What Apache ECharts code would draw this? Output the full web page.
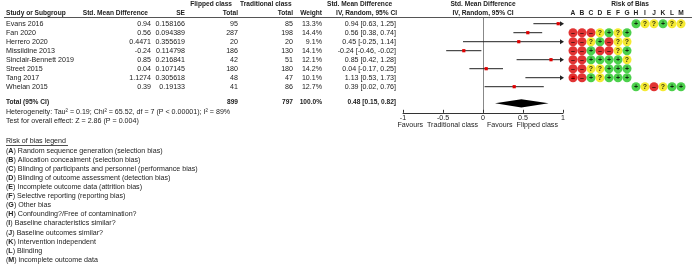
<!DOCTYPE html>
<html>
<head>
<meta charset="utf-8">
<script src="https://cdn.jsdelivr.net/npm/echarts@6/dist/echarts.min.js"></script>
<style>
  html, body { margin: 0; padding: 0; background: #fff; }
  #chart { width: 700px; height: 265px; }
</style>
</head>
<body>
<div id="chart"></div>
<script>
// study rows
var studies = ['Evans 2016', 'Fan 2020', 'Herrero 2020', 'Missildine 2013', 'Sinclair-Bennett 2019', 'Street 2015', 'Tang 2017', 'Whelan 2015'];
var smdText = ['0.94', '0.56', '0.4471', '-0.24', '0.85', '0.04', '1.1274', '0.39'];
var smd = [0.94, 0.56, 0.4471, -0.24, 0.85, 0.04, 1.1274, 0.39];
var seText = ['0.158166', '0.094389', '0.355619', '0.114798', '0.216841', '0.107145', '0.305618', '0.19133'];
var flippedTotal = [95, 287, 20, 186, 42, 180, 48, 41];
var tradTotal = [85, 198, 20, 130, 51, 180, 47, 86];
var weights = ['13.3%', '14.4%', '9.1%', '14.1%', '12.1%', '14.2%', '10.1%', '12.7%'];
var ciLow = [0.63, 0.38, -0.25, -0.46, 0.42, -0.17, 0.53, 0.02];
var ciHigh = [1.25, 0.74, 1.14, -0.02, 1.28, 0.25, 1.73, 0.76];

// pooled
var totalEst = 0.48, totalLow = 0.15, totalHigh = 0.82;
var totalFlipped = 899, totalTrad = 797, totalWeight = '100.0%';

// risk of bias, one char per column A..M ('.' = not assessed)
var biasCols = ['A', 'B', 'C', 'D', 'E', 'F', 'G', 'H', 'I', 'J', 'K', 'L', 'M'];
var biasRows = [
    '.......+??+??',
    '---?+?+......',
    '--?+-??......',
    '--+--?+......',
    '--++++?......',
    '--??+++......',
    '--+?+++......',
    '.......+?-?++'
];
var biasLegend = [
    'Random sequence generation (selection bias)',
    'Allocation concealment (selection bias)',
    'Blinding of participants and personnel (performance bias)',
    'Blinding of outcome assessment (detection bias)',
    'Incomplete outcome data (attrition bias)',
    'Selective reporting (reporting bias)',
    'Other bias',
    'Confounding?/Free of contamination?',
    'Baseline characteristics similar?',
    'Baseline outcomes similar?',
    'Intervention independent',
    'Blinding',
    'incomplete outcome data'
];

var FONT = '"Liberation Sans", Arial, sans-serif';
var FS = 7.1;     // regular text
var FSB = 6.6;    // bold headers
var TXT = '#222';
var totalRow = 8.67;

function f2(v){ return v.toFixed(2); }
function txt(x, y, s, align, bold){
    return { type: 'text', x: x, y: y, silent: true,
        style: { text: s, fill: TXT, font: bold ? ('bold ' + FSB + 'px ' + FONT) : (FS + 'px ' + FONT),
            align: align || 'left', textAlign: align || 'left', verticalAlign: 'middle', textVerticalAlign: 'middle' } };
}

var yRows = { type: 'value', inverse: true, min: -0.6, max: 9.9, show: false };
var gridTop = 18.3, gridH = 94.5;

var biasColor = { '-': '#d90000', '+': '#1fc41f', '?': '#f2e500' };
var biasData = [];
biasRows.forEach(function(row, r){
    row.split('').forEach(function(ch, c){
        if (ch !== '.') biasData.push({ value: [c, r, ch], itemStyle: { color: biasColor[ch] } });
    });
});

var graphics = [
    txt(232, 4, 'Flipped class', 'right', true),
    txt(240, 4, 'Traditional class', 'left', true),
    txt(327, 4, 'Std. Mean Difference', 'left', true),
    txt(483, 4, 'Std. Mean Difference', 'center', true),
    txt(630, 4, 'Risk of Bias', 'center', true),
    txt(6, 13, 'Study or Subgroup', 'left', true),
    txt(148, 13, 'Std. Mean Difference', 'right', true),
    txt(185, 13, 'SE', 'right', true),
    txt(238, 13, 'Total', 'right', true),
    txt(293, 13, 'Total', 'right', true),
    txt(322, 13, 'Weight', 'right', true),
    txt(397, 13, 'IV, Random, 95% CI', 'right', true),
    txt(483, 13, 'IV, Random, 95% CI', 'center', true),
    { type: 'line', silent: true, shape: { x1: 4, y1: 17.5, x2: 692, y2: 17.5 }, style: { stroke: '#555', lineWidth: 1 } },
    txt(6, 111.7, 'Heterogeneity: Tau² = 0.19; Chi² = 65.52, df = 7 (P < 0.00001); I² = 89%', 'left'),
    txt(6, 120.7, 'Test for overall effect: Z = 2.86 (P = 0.004)', 'left'),
    txt(478, 125, 'Favours  Traditional class', 'right'),
    txt(487, 125, 'Favours  Flipped class', 'left'),
    txt(6, 141.5, 'Risk of bias legend', 'left'),
    { type: 'line', silent: true, shape: { x1: 6, y1: 145.5, x2: 68, y2: 145.5 }, style: { stroke: TXT, lineWidth: 0.8 } }
];
biasLegend.forEach(function(s, k){
    graphics.push({ type: 'text', x: 6, y: 150.7 + 9.1 * k, silent: true,
        style: { text: '({b|' + biasCols[k] + '}) ' + s, fill: TXT, font: FS + 'px ' + FONT,
            rich: { b: { fontWeight: 'bold', fontSize: FS, fontFamily: FONT, fill: TXT } },
            verticalAlign: 'middle', textVerticalAlign: 'middle' } });
});

var chart = echarts.init(document.getElementById('chart'), null, { renderer: 'canvas' });
chart.setOption({
    animation: false,
    backgroundColor: '#fff',
    grid: [
        { left: 0, width: 400, top: gridTop, height: gridH },
        { left: 403, width: 160, top: gridTop, height: gridH },
        { left: 568.5, width: 117, top: gridTop, height: gridH }
    ],
    xAxis: [
        { gridIndex: 0, type: 'value', min: 0, max: 1, show: false },
        { gridIndex: 1, type: 'value', min: -1, max: 1, interval: 0.5,
            axisLine: { onZero: false, lineStyle: { color: '#333', width: 1 } },
            axisTick: { inside: true, length: 3, lineStyle: { color: '#333' } },
            axisLabel: { margin: 2, fontSize: FS, fontFamily: FONT, color: TXT },
            splitLine: { show: false } },
        { gridIndex: 2, type: 'category', data: biasCols, position: 'top',
            axisLine: { show: false }, axisTick: { show: false },
            axisLabel: { margin: 2, fontSize: FSB, fontWeight: 'bold', fontFamily: FONT, color: TXT } }
    ],
    yAxis: [
        Object.assign({ gridIndex: 0 }, yRows),
        { gridIndex: 1, type: 'value', inverse: true, min: -0.6, max: 9.9,
            axisLine: { show: true, onZero: true, lineStyle: { color: '#888', width: 1 } },
            axisTick: { show: false }, axisLabel: { show: false }, splitLine: { show: false } },
        Object.assign({ gridIndex: 2 }, yRows)
    ],
    graphic: graphics,
    series: [
        {   // table rows
            type: 'custom', xAxisIndex: 0, yAxisIndex: 0,
            data: studies.map(function(s, i){ return [0.5, i]; }),
            encode: { x: 0, y: 1 },
            renderItem: function(params, api){
                var i = api.value(1);
                var y = api.coord([0.5, i])[1];
                return { type: 'group', children: [
                    txt(6, y, studies[i], 'left'),
                    txt(151, y, smdText[i], 'right'),
                    txt(185, y, seText[i], 'right'),
                    txt(238, y, String(flippedTotal[i]), 'right'),
                    txt(293, y, String(tradTotal[i]), 'right'),
                    txt(322, y, weights[i], 'right'),
                    txt(396, y, f2(smd[i]) + ' [' + f2(ciLow[i]) + ', ' + f2(ciHigh[i]) + ']', 'right')
                ] };
            }
        },
        {   // total row
            type: 'custom', xAxisIndex: 0, yAxisIndex: 0,
            data: [[0.5, totalRow]],
            encode: { x: 0, y: 1 },
            renderItem: function(params, api){
                var y = api.coord([0.5, api.value(1)])[1];
                return { type: 'group', children: [
                    txt(6, y, 'Total (95% CI)', 'left', true),
                    txt(238, y, String(totalFlipped), 'right', true),
                    txt(293, y, String(totalTrad), 'right', true),
                    txt(322, y, totalWeight, 'right', true),
                    txt(396, y, f2(totalEst) + ' [' + f2(totalLow) + ', ' + f2(totalHigh) + ']', 'right', true)
                ] };
            }
        },
        {   // study CIs
            type: 'custom', xAxisIndex: 1, yAxisIndex: 1, clip: false,
            data: smd.map(function(v, i){ return [i, v, ciLow[i], ciHigh[i]]; }),
            encode: { y: 0, x: [1, 2, 3] },
            renderItem: function(params, api){
                var i = api.value(0), est = api.value(1), lo = api.value(2), hi = api.value(3);
                var a = api.coord([Math.max(lo, -1), i]);
                var b = api.coord([Math.min(hi, 1), i]);
                var p = api.coord([est, i]);
                var kids = [];
                var x2 = hi > 1 ? b[0] - 2 : b[0];
                var x1 = lo < -1 ? a[0] + 2 : a[0];
                kids.push({ type: 'line', shape: { x1: x1, y1: a[1], x2: x2, y2: b[1] }, style: { stroke: '#222', lineWidth: 1 } });
                if (hi > 1) kids.push({ type: 'polygon', shape: { points: [[b[0] + 1, b[1]], [b[0] - 3, b[1] - 2.5], [b[0] - 3, b[1] + 2.5]] }, style: { fill: '#222' } });
                if (lo < -1) kids.push({ type: 'polygon', shape: { points: [[a[0] - 1, a[1]], [a[0] + 3, a[1] - 2.5], [a[0] + 3, a[1] + 2.5]] }, style: { fill: '#222' } });
                kids.push({ type: 'rect', shape: { x: p[0] - 1.6, y: p[1] - 1.6, width: 3.2, height: 3.2 }, style: { fill: '#e00000' } });
                return { type: 'group', children: kids };
            }
        },
        {   // pooled diamond
            type: 'custom', xAxisIndex: 1, yAxisIndex: 1, clip: false,
            data: [[totalRow + 0.18, totalEst, totalLow, totalHigh]],
            encode: { y: 0, x: [1, 2, 3] },
            renderItem: function(params, api){
                var r = api.value(0);
                var l = api.coord([api.value(2), r]), c = api.coord([api.value(1), r]), h = api.coord([api.value(3), r]);
                return { type: 'polygon', shape: { points: [[l[0], l[1]], [c[0], c[1] - 4.2], [h[0], h[1]], [c[0], c[1] + 4.2]] }, style: { fill: '#000' } };
            }
        },
        {   // risk of bias dots
            type: 'scatter', xAxisIndex: 2, yAxisIndex: 2,
            symbol: 'circle', symbolSize: 9,
            data: biasData,
            label: { show: true, position: 'inside', formatter: function(p){ return p.value[2] === '-' ? '\u2013' : p.value[2]; },
                color: '#000', fontSize: 7, fontWeight: 'bold', fontFamily: FONT },
            emphasis: { disabled: true }
        }
    ]
});
</script>
</body>
</html>
